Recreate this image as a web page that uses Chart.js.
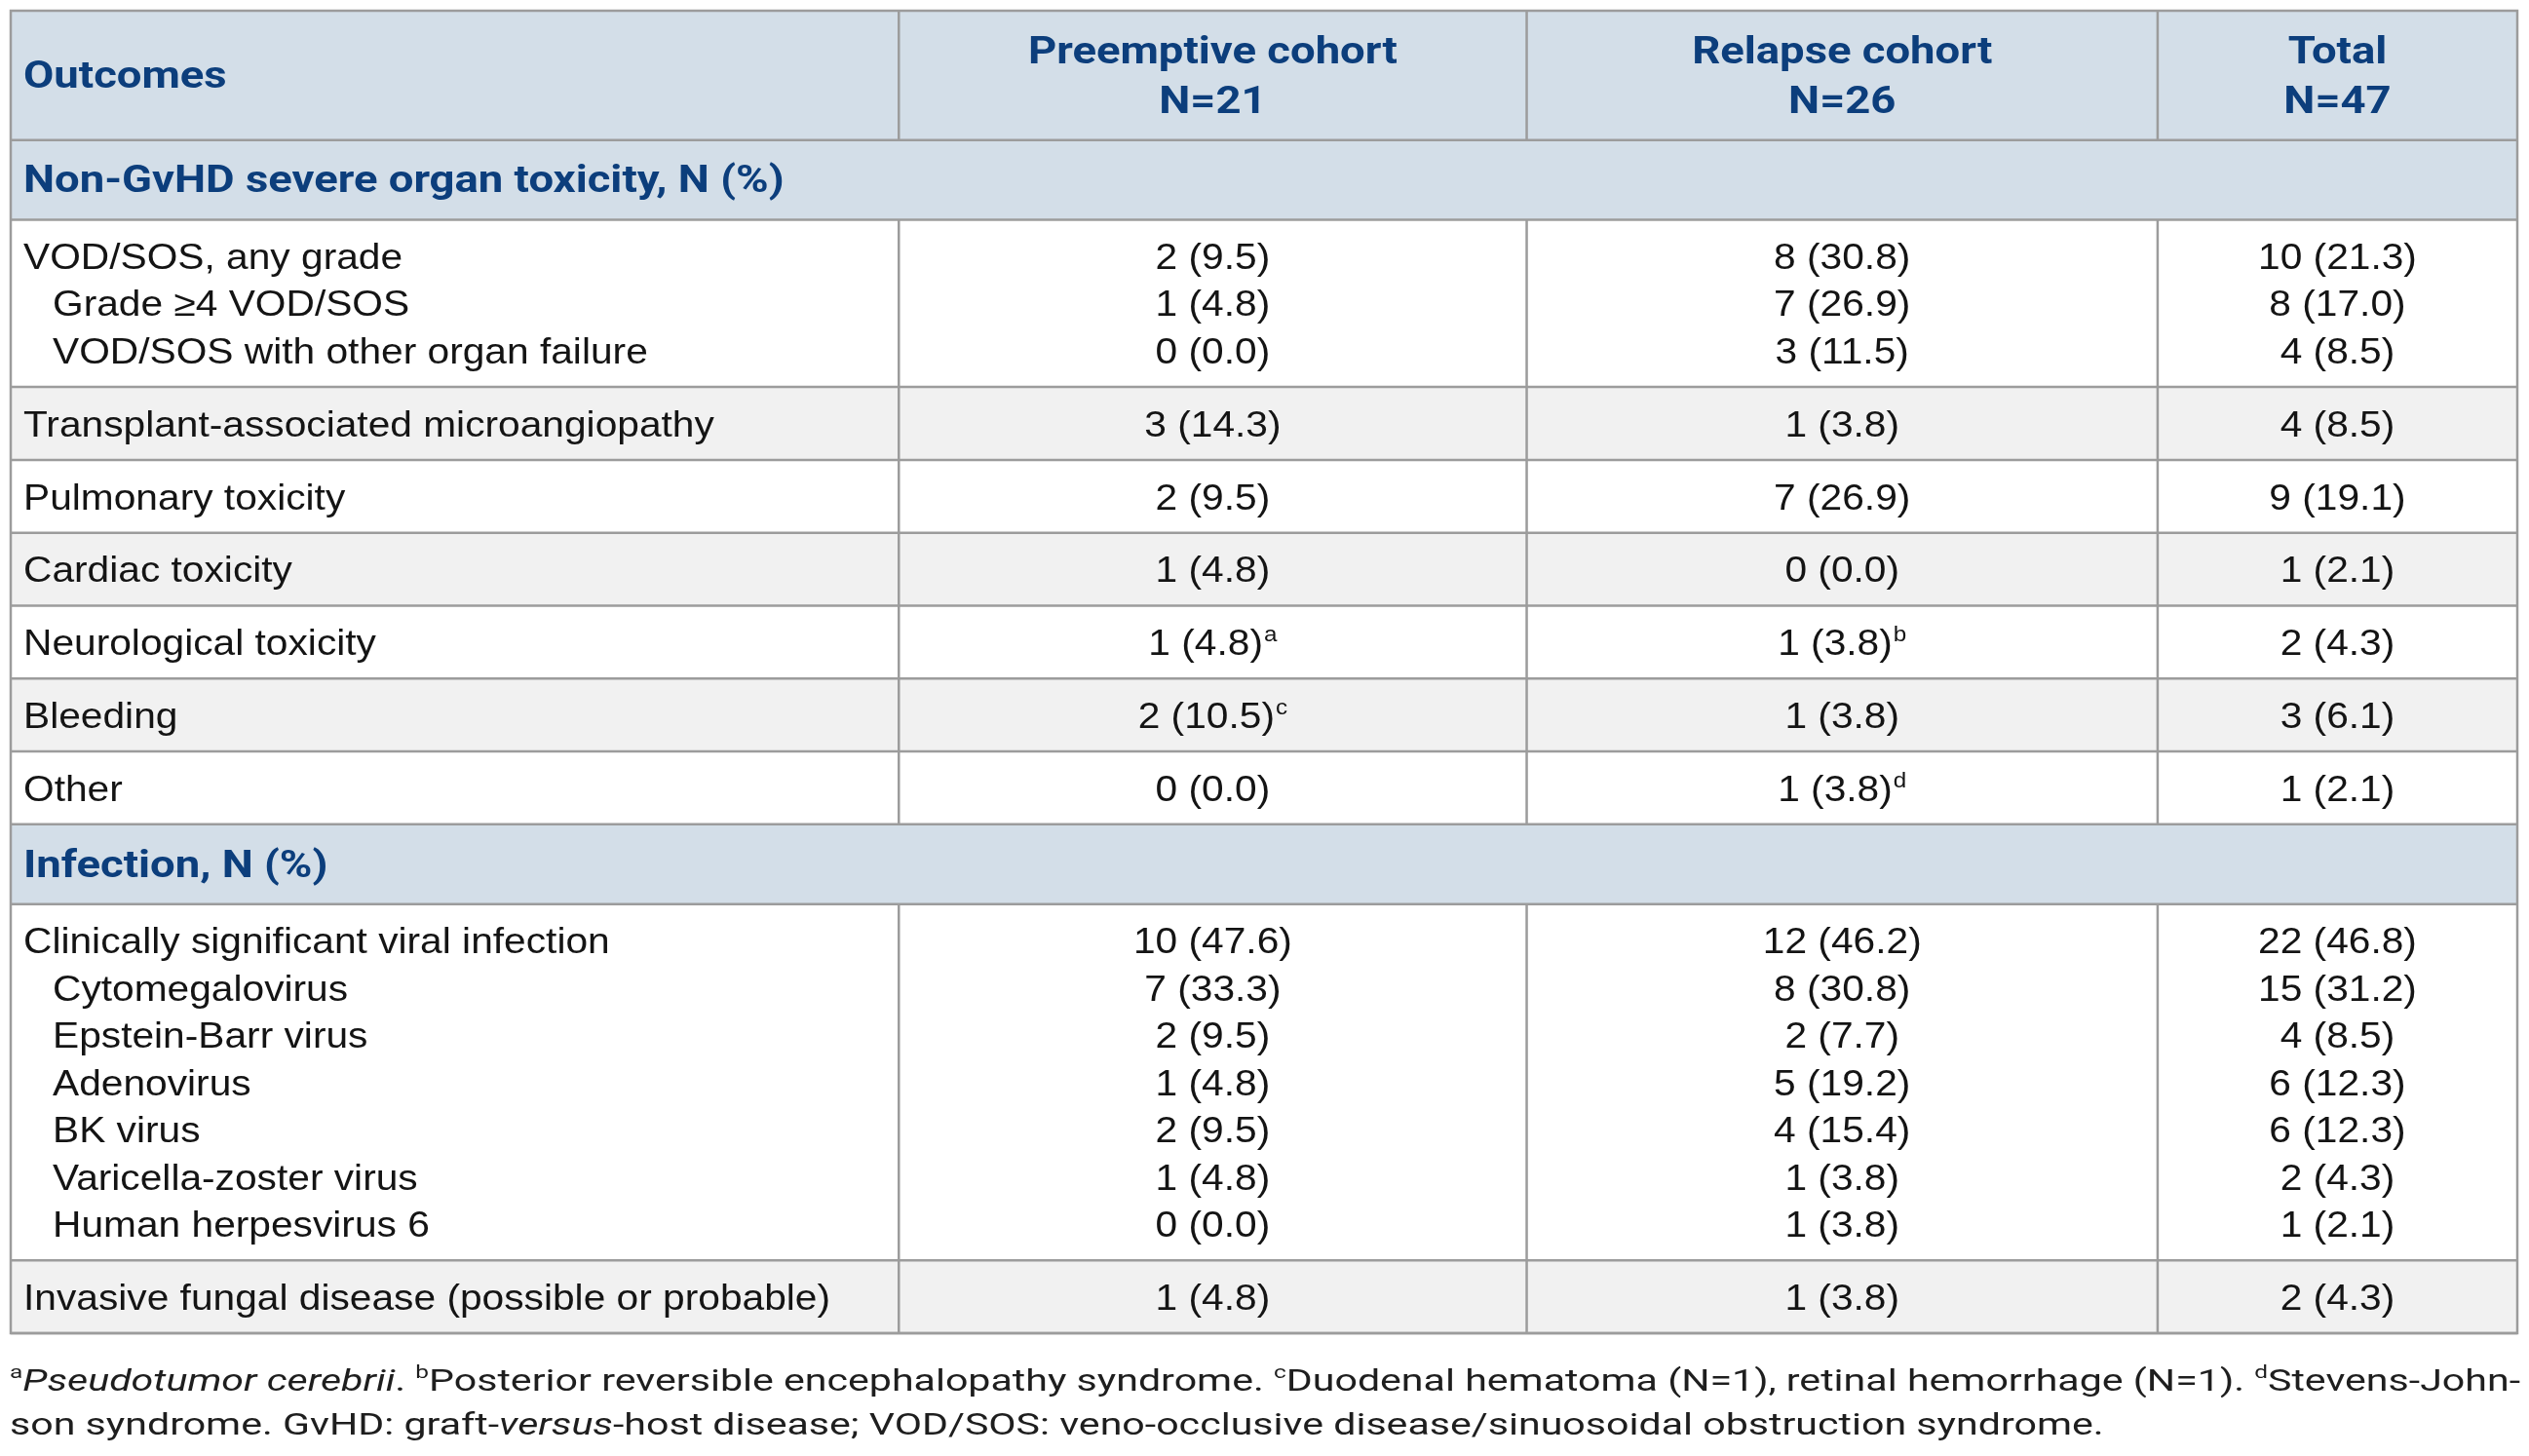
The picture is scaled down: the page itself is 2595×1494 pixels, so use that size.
<!DOCTYPE html>
<html>
<head>
<meta charset="utf-8">
<script src="https://cdn.jsdelivr.net/npm/chart.js@4.4.0/dist/chart.umd.min.js"></script>
<style>
    html, body { margin: 0; padding: 0; background: #ffffff; }
    #contenedor { width: 2595px; height: 1494px; position: relative; }
</style>
</head>
<body>
<div id="contenedor"><canvas id="tabla_main"></canvas></div>
<script>
/*
    ||=====================================================
    || DATOS
    ||=====================================================
*/
const columnas = ['Outcomes', 'Preemptive cohort', 'Relapse cohort', 'Total']
const columnas_n = ['', 'N=21', 'N=26', 'N=47']
const secciones = ['Non-GvHD severe organ toxicity, N (%)', 'Infection, N (%)']

// seccion 1 - toxicidad
const tox_outcomes = [
    'VOD/SOS, any grade', 'Grade ≥4 VOD/SOS', 'VOD/SOS with other organ failure',
    'Transplant-associated microangiopathy', 'Pulmonary toxicity', 'Cardiac toxicity',
    'Neurological toxicity', 'Bleeding', 'Other'
]
const tox_nivel = [0, 1, 1, 0, 0, 0, 0, 0, 0]
const tox_bloque = [0, 0, 0, 1, 2, 3, 4, 5, 6]
const tox_pre_n = [2, 1, 0, 3, 2, 1, 1, 2, 0]
const tox_pre_pct = [9.5, 4.8, 0.0, 14.3, 9.5, 4.8, 4.8, 10.5, 0.0]
const tox_pre_nota = ['', '', '', '', '', '', 'a', 'c', '']
const tox_rel_n = [8, 7, 3, 1, 7, 0, 1, 1, 1]
const tox_rel_pct = [30.8, 26.9, 11.5, 3.8, 26.9, 0.0, 3.8, 3.8, 3.8]
const tox_rel_nota = ['', '', '', '', '', '', 'b', '', 'd']
const tox_tot_n = [10, 8, 4, 4, 9, 1, 2, 3, 1]
const tox_tot_pct = [21.3, 17.0, 8.5, 8.5, 19.1, 2.1, 4.3, 6.1, 2.1]

// seccion 2 - infeccion
const inf_outcomes = [
    'Clinically significant viral infection', 'Cytomegalovirus', 'Epstein-Barr virus',
    'Adenovirus', 'BK virus', 'Varicella-zoster virus', 'Human herpesvirus 6',
    'Invasive fungal disease (possible or probable)'
]
const inf_nivel = [0, 1, 1, 1, 1, 1, 1, 0]
const inf_bloque = [0, 0, 0, 0, 0, 0, 0, 1]
const inf_pre_n = [10, 7, 2, 1, 2, 1, 0, 1]
const inf_pre_pct = [47.6, 33.3, 9.5, 4.8, 9.5, 4.8, 0.0, 4.8]
const inf_rel_n = [12, 8, 2, 5, 4, 1, 1, 1]
const inf_rel_pct = [46.2, 30.8, 7.7, 19.2, 15.4, 3.8, 3.8, 3.8]
const inf_tot_n = [22, 15, 4, 6, 6, 2, 1, 2]
const inf_tot_pct = [46.8, 31.2, 8.5, 12.3, 12.3, 4.3, 2.1, 4.3]

// notas al pie -> [texto, estilo]  n normal, i italica, s superindice
const nota_linea_1 = [
    ['a', 's'], ['Pseudotumor cerebrii', 'i'], ['. ', 'n'],
    ['b', 's'], ['Posterior reversible encephalopathy syndrome. ', 'n'],
    ['c', 's'], ['Duodenal hematoma (N=1), retinal hemorrhage (N=1). ', 'n'],
    ['d', 's'], ['Stevens-John-', 'n']
]
const nota_linea_2 = [
    ['son syndrome. GvHD: graft-', 'n'], ['versus', 'i'],
    ['-host disease; VOD/SOS: veno-occlusive disease/sinuosoidal obstruction syndrome.', 'n']
]

/*
    ||=====================================================
    || ESTILO / LAYOUT
    ||=====================================================
*/
const bordes_col = [0, 35.43, 60.48, 85.65, 100] // % del ancho de la tabla
const alto_linea = 48.6
const alto_fila = 75
const alto_cab = 82
const linea_cab = 51
const escala_body = 1.1
const escala_bold = 1.15
const baja_texto = 3 // el centro visual del texto cae un poco bajo el 'middle'

const color_cab = '#d3dee8'
const color_gris = '#f1f1f1'
const color_borde = '#9c9c9c'
const color_azul = '#0c3e7c'
const color_texto = '#141414'

const fuente_body = '37px "Liberation Sans", Arial, sans-serif'
const fuente_sup = '22px "Liberation Sans", Arial, sans-serif'
const fuente_bold = 'bold 39.5px Roboto, "Liberation Sans", sans-serif'
const fuente_nota = '32px Roboto, "Liberation Sans", sans-serif'
const fuente_nota_i = 'italic 32px Roboto, "Liberation Sans", sans-serif'
const fuente_nota_s = '19px Roboto, "Liberation Sans", sans-serif'


/*
    ||=====================================================
    || ARMAR BLOQUES Y CELDAS
    ||=====================================================
*/
let bloques = []
let celdas = []
let y_actual = 0

function centro_col(i){
    return (bordes_col[i] + bordes_col[i + 1]) / 2
}

function agregar_bloque(tipo, n_lineas, fondo){
    let alto
    if (tipo == 'cab') {
        alto = alto_cab + (n_lineas - 1) * linea_cab
    } else if (tipo == 'seccion') {
        alto = alto_cab
    } else {
        alto = alto_fila + (n_lineas - 1) * alto_linea
    }
    let bloque = { tipo: tipo, top: y_actual, bottom: y_actual + alto, fondo: fondo }
    bloques.push(bloque)
    y_actual += alto
    return bloque
}

function centros_lineas(bloque, n_lineas, paso){
    let medio = (bloque.top + bloque.bottom) / 2
    let centros = []
    for (let i = 0; i < n_lineas; i++) {
        centros.push(medio + (i - (n_lineas - 1) / 2) * paso)
    }
    return centros
}

function pct(n, p){
    return `${n} (${p.toFixed(1)})`
}

// encabezado
let cab = agregar_bloque('cab', 2, color_cab)
let yc = centros_lineas(cab, 2, linea_cab)
celdas.push({ x: 0, y: (cab.top + cab.bottom) / 2, texto: columnas[0], tipo: 'bold', align: 'left', nivel: 0 })
for (let c = 1; c < 4; c++) {
    celdas.push({ x: centro_col(c), y: yc[0], texto: columnas[c], tipo: 'bold', align: 'center' })
    celdas.push({ x: centro_col(c), y: yc[1], texto: columnas_n[c], tipo: 'bold', align: 'center' })
}

function agregar_seccion(titulo, outcomes, nivel, grupo, valores, notas){
    let sec = agregar_bloque('seccion', 1, color_cab)
    celdas.push({ x: 0, y: (sec.top + sec.bottom) / 2, texto: titulo, tipo: 'bold', align: 'left', nivel: 0 })
    let i = 0
    while (i < outcomes.length) {
        let g = grupo[i]
        let filas = []
        while (i < outcomes.length && grupo[i] == g) { filas.push(i); i++ }
        let bloque = agregar_bloque('body', filas.length, g % 2 == 1 ? color_gris : '#ffffff')
        let centros = centros_lineas(bloque, filas.length, alto_linea)
        filas.forEach((f, k) => {
            celdas.push({ x: 0, y: centros[k], texto: outcomes[f], tipo: 'body', align: 'left', nivel: nivel[f] })
            for (let c = 0; c < 3; c++) {
                celdas.push({
                    x: centro_col(c + 1), y: centros[k],
                    texto: pct(valores[c][0][f], valores[c][1][f]),
                    nota: notas[c][f], tipo: 'body', align: 'center'
                })
            }
        })
    }
}

agregar_seccion(secciones[0], tox_outcomes, tox_nivel, tox_bloque,
    [[tox_pre_n, tox_pre_pct], [tox_rel_n, tox_rel_pct], [tox_tot_n, tox_tot_pct]],
    [tox_pre_nota, tox_rel_nota, []])
agregar_seccion(secciones[1], inf_outcomes, inf_nivel, inf_bloque,
    [[inf_pre_n, inf_pre_pct], [inf_rel_n, inf_rel_pct], [inf_tot_n, inf_tot_pct]],
    [[], [], []])

let total_y = y_actual


/*
    ||=====================================================
    || DIBUJO (plugin)
    ||=====================================================
*/
function texto_estirado(ctx, texto, nota, x, y, align, fuente, escala){
    ctx.font = fuente
    let ancho = ctx.measureText(texto).width
    let ancho_nota = 0
    if (nota) {
        ctx.font = fuente_sup
        ancho_nota = ctx.measureText(nota).width + 1
    }
    let total = (ancho + ancho_nota) * escala
    let x0 = align == 'center' ? x - total / 2 : x
    ctx.save()
    ctx.translate(x0, y + baja_texto)
    ctx.scale(escala, 1)
    ctx.textAlign = 'left'
    ctx.textBaseline = 'middle'
    ctx.font = fuente
    ctx.fillText(texto, 0, 0)
    if (nota) {
        ctx.font = fuente_sup
        ctx.fillText(nota, ancho + 1, -10)
    }
    ctx.restore()
}

function fuente_segmento(estilo){
    if (estilo == 'i') return fuente_nota_i
    if (estilo == 's') return fuente_nota_s
    return fuente_nota
}

function ancho_linea(ctx, segmentos){
    let suma = 0
    segmentos.forEach(s => {
        ctx.font = fuente_segmento(s[1])
        suma += ctx.measureText(s[0]).width
    })
    return suma
}

function linea_nota(ctx, segmentos, x, y, sx){
    ctx.save()
    ctx.translate(x, y)
    ctx.scale(sx, 1)
    ctx.textAlign = 'left'
    ctx.textBaseline = 'middle'
    ctx.fillStyle = '#1e1e1e'
    let cx = 0
    segmentos.forEach(s => {
        ctx.font = fuente_segmento(s[1])
        ctx.fillText(s[0], cx, s[1] == 's' ? -10 : 0)
        cx += ctx.measureText(s[0]).width
    })
    ctx.restore()
}

const plugin_tabla = {
    id: 'plugin_tabla',
    beforeDatasetsDraw(chart){
        let ctx = chart.ctx
        let sx = chart.scales.x
        let sy = chart.scales.y
        let izq = sx.getPixelForValue(0)
        let der = sx.getPixelForValue(100)
        ctx.save()
        bloques.forEach(b => {
            let y0 = sy.getPixelForValue(b.top)
            let y1 = sy.getPixelForValue(b.bottom)
            ctx.fillStyle = b.fondo
            ctx.fillRect(izq, y0, der - izq, y1 - y0)
        })
        ctx.strokeStyle = color_borde
        ctx.lineWidth = 2.5
        bloques.forEach(b => {
            let y0 = sy.getPixelForValue(b.top)
            let y1 = sy.getPixelForValue(b.bottom)
            ctx.beginPath()
            ctx.moveTo(izq, y1)
            ctx.lineTo(der, y1)
            if (b.tipo != 'seccion') {
                for (let c = 1; c < 4; c++) {
                    let xc = sx.getPixelForValue(bordes_col[c])
                    ctx.moveTo(xc, y0)
                    ctx.lineTo(xc, y1)
                }
            }
            ctx.stroke()
        })
        ctx.strokeRect(izq, sy.getPixelForValue(0), der - izq, sy.getPixelForValue(total_y) - sy.getPixelForValue(0))
        ctx.restore()
    },
    afterDatasetsDraw(chart){
        let ctx = chart.ctx
        let meta = chart.getDatasetMeta(0)
        ctx.save()
        celdas.forEach((c, i) => {
            let p = meta.data[i]
            let x = p.x
            if (c.align == 'left') x += 13 + (c.nivel || 0) * 30
            if (c.tipo == 'bold') {
                ctx.fillStyle = color_azul
                texto_estirado(ctx, c.texto, c.nota, x, p.y, c.align, fuente_bold, escala_bold)
            } else {
                ctx.fillStyle = color_texto
                texto_estirado(ctx, c.texto, c.nota, x, p.y, c.align, fuente_body, escala_body)
            }
        })
        // notas al pie
        let area = chart.chartArea
        let objetivo = area.right - area.left + 4
        let sx_nota = objetivo / ancho_linea(ctx, nota_linea_1)
        linea_nota(ctx, nota_linea_1, area.left - 1, area.bottom + 51, sx_nota)
        linea_nota(ctx, nota_linea_2, area.left - 1, area.bottom + 96, sx_nota)
        ctx.restore()
    }
}


/*
    ||=====================================================
    || CHART
    ||=====================================================
*/
function tabla_view(){
    let datos = {
        datasets: [
            {
                label: 'celdas',
                data: celdas.map(c => ({ x: c.x, y: c.y })),
                pointRadius: 0,
                showLine: false
            }
        ]
    }
    let configuracion = {
        type: 'scatter',
        data: datos,
        options: {
            responsive: true,
            maintainAspectRatio: false,
            animation: false,
            events: [],
            layout: { padding: { left: 11, right: 12, top: 11, bottom: 126 } },
            scales: {
                x: { type: 'linear', display: false, min: 0, max: 100 },
                y: { type: 'linear', display: false, min: 0, max: total_y, reverse: true }
            },
            plugins: {
                legend: { display: false },
                tooltip: { enabled: false }
            }
        },
        plugins: [plugin_tabla]
    }
    let ctx = document.getElementById('tabla_main').getContext('2d')
    new Chart(ctx, configuracion)
}
tabla_view()
</script>
</body>
</html>
